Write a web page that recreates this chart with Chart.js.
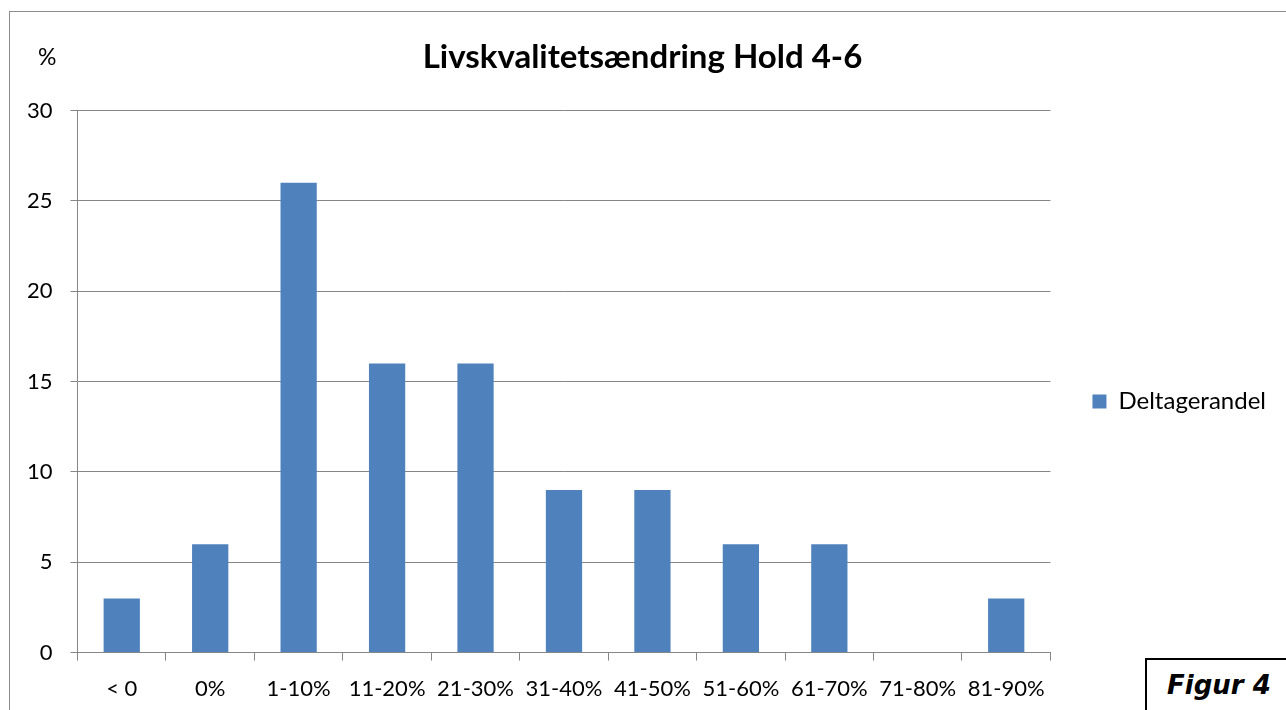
<!DOCTYPE html>
<html>
<head>
<meta charset="utf-8">
<script src="https://cdn.jsdelivr.net/npm/chart.js@4.4.1/dist/chart.umd.min.js"></script>
<style>
    body { margin: 0; background: #fff; overflow: hidden; width: 1286px; height: 710px; position: relative; }
    #frame { position: absolute; left: 9px; top: 11px; width: 1300px; height: 720px; border: 1px solid #8c8c8c; box-sizing: border-box; }
    #chart { position: absolute; left: 0; top: 0; }
    #unit { position: absolute; left: 38px; top: 43px; font: 23px Lato, sans-serif; line-height: 26px; color: #000; }
    #figur { position: absolute; left: 1145px; top: 658px; width: 200px; height: 100px; border: 2px solid #000; box-sizing: border-box;
             padding: 10px 0 0 20px; font: italic bold 26px "DejaVu Sans", sans-serif; color: #000; background: #fff; }
</style>
</head>
<body>
<div id="frame"></div>
<canvas id="chart" width="1286" height="710"></canvas>
<div id="unit">%</div>
<div id="figur">Figur 4</div>
<script>
const categories = ['< 0', '0%', '1-10%', '11-20%', '21-30%', '31-40%', '41-50%', '51-60%', '61-70%', '71-80%', '81-90%'];
const deltagerandel = [3, 6, 26, 16, 16, 9, 9, 6, 6, 0, 3];
const yTicks = [0, 5, 10, 15, 20, 25, 30];

const gridGray = '#868686';
const font = 'Lato, sans-serif';

const ctx = document.getElementById('chart').getContext('2d');
new Chart(ctx, {
    type: 'bar',
    data: {
        labels: categories,
        datasets: [{
            label: 'Deltagerandel',
            data: deltagerandel,
            backgroundColor: '#4F81BD',
            borderWidth: 0,
            barPercentage: 0.41,
            categoryPercentage: 1
        }]
    },
    options: {
        responsive: false,
        animation: false,
        layout: {
            // tick padding is counted twice by the scales, so left/bottom are pulled in
            padding: { top: 21, left: 9, right: 10, bottom: -7 }
        },
        plugins: {
            title: {
                display: true,
                text: 'Livskvalitetsændring Hold 4-6',
                color: '#000',
                font: { family: font, size: 33, weight: 'bold' },
                padding: { top: 17, bottom: 33 }
            },
            legend: {
                position: 'right',
                fullSize: false,
                title: {
                    // empty title only pushes the item down a bit
                    display: true,
                    text: '',
                    font: { size: 10 },
                    padding: { top: 28, bottom: 0 }
                },
                labels: {
                    boxWidth: 14,
                    boxHeight: 14,
                    padding: 42,
                    color: '#000',
                    font: { family: font, size: 24 }
                }
            },
            tooltip: { enabled: false }
        },
        scales: {
            x: {
                grid: {
                    offset: true,
                    drawOnChartArea: false,
                    color: gridGray,
                    tickLength: 8
                },
                border: { color: gridGray },
                ticks: {
                    color: '#000',
                    padding: 15,
                    maxRotation: 0,
                    autoSkip: false,
                    font: { family: font, size: 22 }
                }
            },
            y: {
                min: 0,
                max: 30,
                afterBuildTicks: (scale) => {
                    scale.ticks = yTicks.map(v => ({ value: v }));
                },
                grid: {
                    color: gridGray,
                    tickLength: 7
                },
                border: { color: gridGray },
                ticks: {
                    color: '#000',
                    padding: 18,
                    font: { family: font, size: 22 }
                }
            }
        }
    }
});
</script>
</body>
</html>
